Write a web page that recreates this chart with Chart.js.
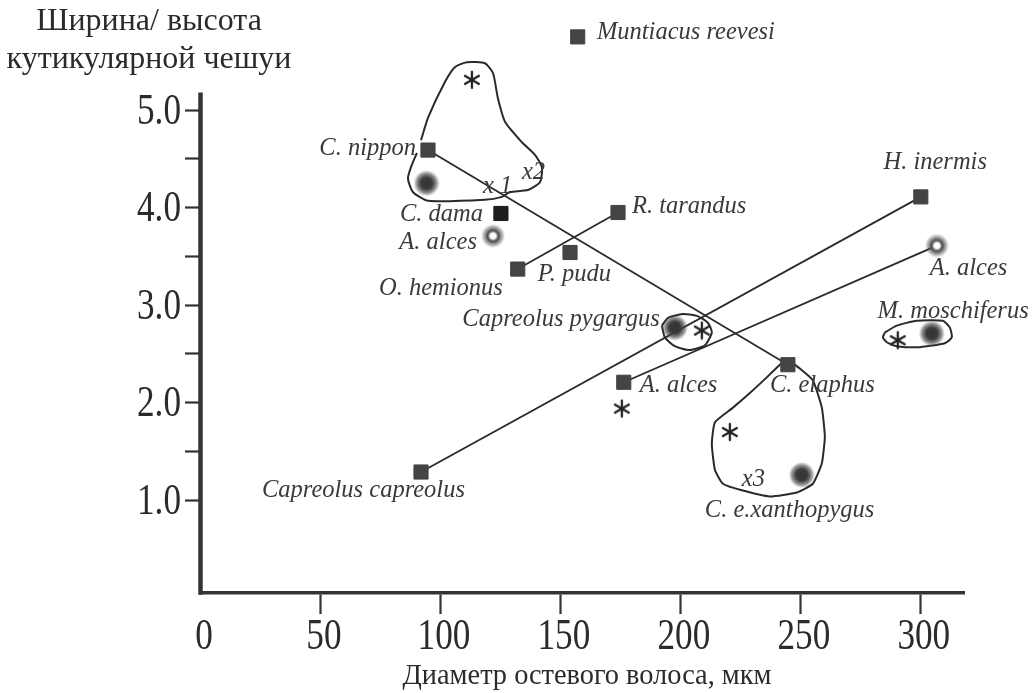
<!DOCTYPE html>
<html>
<head>
<meta charset="utf-8">
<script src="https://cdn.jsdelivr.net/npm/chart.js@4.4.1/dist/chart.umd.min.js"></script>
<style>
  html, body { margin: 0; background: #fff; }
  #wrap { width: 1033px; height: 693px; }
</style>
</head>
<body>
<div id="wrap"><canvas id="chart"></canvas></div>
<script>
// виды (квадраты)
const species  = ['Muntiacus reevesi', 'C. nippon', 'C. dama', 'R. tarandus', 'P. pudu', 'O. hemionus', 'H. inermis', 'C. elaphus', 'A. alces', 'Capreolus capreolus'];
const speciesX = [157, 94.6, 125, 173.8, 153.8, 132, 300, 244.6, 176.2, 91.7];
const speciesY = [5.75, 4.59, 3.94, 3.95, 3.54, 3.37, 4.11, 2.39, 2.21, 1.29];

// размытые точки и кольца
const blobX = [94, 197.5, 304.6, 250.4];
const blobY = [4.25, 2.77, 2.71, 1.26];
const ringX = [121.7, 306.7];
const ringY = [3.71, 3.61];

// звездочки
const starX = [112.9, 208.75, 290.4, 175.4, 220.4];
const starY = [5.31, 2.74, 2.64, 1.94, 1.70];

// отрезки между видами: [от, до]
const links = [['C. nippon', 'C. elaphus'], ['O. hemionus', 'R. tarandus'], ['Capreolus capreolus', 'H. inermis'], ['A. alces', 'ring1']];

// контуры групп
const groupAX = [91.7, 94.6, 101.7, 105.8, 110.8, 118.3, 121.7, 123.75, 126.7, 133.75, 139.2, 142.1, 141.25, 136.25, 128.75, 125.4, 118.3, 94.6, 88.3, 86.25, 87.9, 90];
const groupAY = [4.69, 4.92, 5.29, 5.44, 5.49, 5.48, 5.38, 5.12, 4.88, 4.67, 4.54, 4.41, 4.26, 4.18, 4.16, 4.11, 4.08, 4.07, 4.16, 4.30, 4.44, 4.56];
const groupBX = [192.1, 194.6, 200.8, 206.7, 211.25, 212.9, 210, 203.75, 197.5, 193.3, 192.1];
const groupBY = [2.79, 2.87, 2.91, 2.89, 2.82, 2.72, 2.59, 2.54, 2.58, 2.67, 2.79];
const groupCX = [285, 290, 298.3, 309.2, 312.1, 312.9, 310, 299.6, 290, 285.8, 284.2, 285];
const groupCY = [2.72, 2.79, 2.84, 2.84, 2.77, 2.67, 2.61, 2.57, 2.58, 2.62, 2.67, 2.72];
const groupDX = [242.1, 235.8, 228.75, 221.7, 214.2, 212.9, 214.2, 217.5, 225.8, 237.1, 248.3, 255, 258.75, 260, 258.75, 255, 249.6, 245.4];
const groupDY = [2.41, 2.26, 2.10, 1.95, 1.80, 1.58, 1.31, 1.17, 1.10, 1.04, 1.08, 1.17, 1.38, 1.65, 1.95, 2.23, 2.35, 2.43];

// подписи
const noteText  = ['Muntiacus reevesi', 'C. nippon', 'C. dama', 'A. alces', 'O. hemionus', 'P. pudu', 'R. tarandus', 'H. inermis', 'A. alces', 'M. moschiferus', 'Capreolus pygargus', 'A. alces', 'C. elaphus', 'C. e.xanthopygus', 'Capreolus capreolus', 'x 1', 'x2', 'x3'];
const noteX     = [165, 89.6, 117.5, 115, 125.8, 140.4, 179.6, 306, 303.75, 282, 191.25, 182.9, 237.1, 210, 25.4, 117.5, 133.75, 225.4];
const noteY     = [5.79, 4.61, 3.93, 3.64, 3.17, 3.31, 4.01, 4.46, 3.38, 2.93, 2.85, 2.18, 2.18, 0.90, 1.10, 4.22, 4.36, 1.21];
const noteAlign = ['left', 'right', 'right', 'right', 'right', 'left', 'left', 'center', 'left', 'left', 'right', 'left', 'left', 'left', 'left', 'left', 'left', 'left'];

// оси
const xTicks = [50, 100, 150, 200, 250, 300];
const xTickLabels = ['0', '50', '100', '150', '200', '250', '300'];
const yTicks = [1, 1.5, 2, 2.5, 3, 3.5, 4, 4.5, 5];
const yTickLabels = ['1.0', '2.0', '3.0', '4.0', '5.0'];
const yAxisTop = 5.18;
const xTitle = 'Диаметр остевого волоса, мкм';
const yTitle = ['Ширина/ высота', 'кутикулярной чешуи'];

const pts = (xs, ys) => xs.map((x, i) => ({ x: x, y: ys[i] }));

function findPoint(name) {
  if (name === 'ring1') return { x: ringX[1], y: ringY[1] };
  const i = species.indexOf(name);
  return { x: speciesX[i], y: speciesY[i] };
}

function blob(r, hole) {
  const c = document.createElement('canvas');
  c.width = c.height = r * 2;
  const g = c.getContext('2d');
  const gr = g.createRadialGradient(r, r, 0, r, r, r);
  if (hole) {
    gr.addColorStop(0, '#fff');
    gr.addColorStop(0.22, '#fff');
    gr.addColorStop(0.45, '#4a4a4a');
    gr.addColorStop(0.7, 'rgba(80,80,80,0.55)');
    gr.addColorStop(1, 'rgba(80,80,80,0)');
  } else {
    gr.addColorStop(0, '#333');
    gr.addColorStop(0.45, '#3c3c3c');
    gr.addColorStop(0.75, 'rgba(70,70,70,0.6)');
    gr.addColorStop(1, 'rgba(70,70,70,0)');
  }
  g.fillStyle = gr;
  g.fillRect(0, 0, 2 * r, 2 * r);
  return c;
}

function asterisk(r) {
  const c = document.createElement('canvas');
  c.width = c.height = r * 2 + 4;
  const g = c.getContext('2d');
  g.strokeStyle = '#222';
  g.lineWidth = 2.3;
  g.lineCap = 'round';
  const m = r + 2;
  for (let k = 0; k < 3; k++) {
    const a = Math.PI / 2 + k * Math.PI / 3;
    g.beginPath();
    g.moveTo(m + Math.cos(a) * r, m + Math.sin(a) * r);
    g.lineTo(m - Math.cos(a) * r, m - Math.sin(a) * r);
    g.stroke();
  }
  return c;
}

const lineSet = (data, extra) => Object.assign({
  data: data, showLine: true, pointRadius: 0, borderColor: '#2a2a2a', borderWidth: 2,
  fill: false, tension: 0, clip: false
}, extra);

const datasets = [
  {
    data: pts(speciesX, speciesY), pointStyle: 'rect', pointRadius: 10,
    pointBackgroundColor: species.map(s => s === 'C. dama' ? '#1e1e1e' : '#444'),
    pointBorderColor: species.map(s => s === 'C. dama' ? '#1e1e1e' : '#444'),
    pointBorderWidth: 1, showLine: false, clip: false
  },
  { data: pts(ringX, ringY), pointStyle: blob(12, true), showLine: false, clip: false },
  { data: pts(blobX, blobY), pointStyle: blob(13, false), showLine: false, clip: false },
  { data: pts(starX, starY), pointStyle: asterisk(8), showLine: false, clip: false },
  lineSet(pts(groupAX, groupAY), { tension: 0.2 }),
  lineSet(pts(groupBX, groupBY), { tension: 0.2 }),
  lineSet(pts(groupCX, groupCY), { tension: 0.2 }),
  lineSet(pts(groupDX, groupDY), { tension: 0.15 })
];
links.forEach(l => datasets.push(lineSet([findPoint(l[0]), findPoint(l[1])], { borderWidth: 1.8 })));

function scaledText(ctx, text, x, y, sx) {
  ctx.save();
  ctx.translate(x, y);
  ctx.scale(sx, 1);
  ctx.fillText(text, 0, 0);
  ctx.restore();
}

// вертикальная ось заканчивается на 5.18, а не у края области
const axisPlugin = {
  id: 'yaxis',
  beforeDatasetsDraw(chart) {
    const ctx = chart.ctx, ys = chart.scales.y, xs = chart.scales.x;
    ctx.save();
    ctx.strokeStyle = '#333';
    ctx.lineWidth = 4.5;
    ctx.beginPath();
    ctx.moveTo(xs.left - 0.5, ys.getPixelForValue(yAxisTop));
    ctx.lineTo(xs.left - 0.5, ys.bottom + 1.75);
    ctx.stroke();
    ctx.restore();
  }
};

const textPlugin = {
  id: 'texts',
  afterDraw(chart) {
    const ctx = chart.ctx;
    const xs = chart.scales.x, ys = chart.scales.y;
    ctx.save();
    ctx.fillStyle = '#2b2b2b';
    ctx.textBaseline = 'middle';
    // подписи делений
    ctx.font = '44px "Liberation Serif"';
    ctx.textAlign = 'center';
    xTickLabels.forEach(t => scaledText(ctx, t, xs.getPixelForValue(+t) + 3, 637, 0.8));
    ctx.textAlign = 'right';
    yTickLabels.forEach(t => scaledText(ctx, t, 181, ys.getPixelForValue(+t) + 2, 0.8));
    // названия осей
    ctx.textAlign = 'center';
    ctx.font = '30px "Liberation Serif"';
    scaledText(ctx, xTitle, 587, 676, 0.945);
    ctx.font = '32px "Liberation Serif"';
    scaledText(ctx, yTitle[0], 149, 22, 1.0);
    scaledText(ctx, yTitle[1], 149, 60, 1.0);
    // подписи видов
    ctx.fillStyle = '#3a3a3a';
    ctx.font = 'italic 24.5px "Liberation Serif"';
    noteText.forEach((t, i) => {
      ctx.textAlign = noteAlign[i];
      ctx.fillText(t, xs.getPixelForValue(noteX[i]), ys.getPixelForValue(noteY[i]));
    });
    ctx.restore();
  }
};

new Chart(document.getElementById('chart'), {
  type: 'scatter',
  data: { datasets: datasets },
  options: {
    responsive: true,
    maintainAspectRatio: false,
    animation: false,
    layout: { padding: { top: 22.25, right: 69, left: 0, bottom: 0 } },
    plugins: { legend: { display: false }, tooltip: { enabled: false } },
    scales: {
      x: {
        type: 'linear', min: 0, max: 318,
        afterBuildTicks: s => { s.ticks = xTicks.map(v => ({ value: v })); },
        afterFit: s => { s.height = 100; },
        ticks: { display: false },
        grid: { drawOnChartArea: false, drawTicks: true, tickLength: 21, tickWidth: 2.2, color: '#333' },
        border: { display: true, width: 3.5, color: '#333' }
      },
      y: {
        type: 'linear', min: 0.05, max: 5.9,
        afterBuildTicks: s => { s.ticks = yTicks.map(v => ({ value: v })); },
        afterFit: s => { s.width = 201; },
        ticks: { display: false },
        grid: { drawOnChartArea: false, drawTicks: true, tickLength: 16, tickWidth: 2.2, color: '#333' },
        border: { display: false }
      }
    }
  },
  plugins: [axisPlugin, textPlugin]
});
</script>
</body>
</html>
